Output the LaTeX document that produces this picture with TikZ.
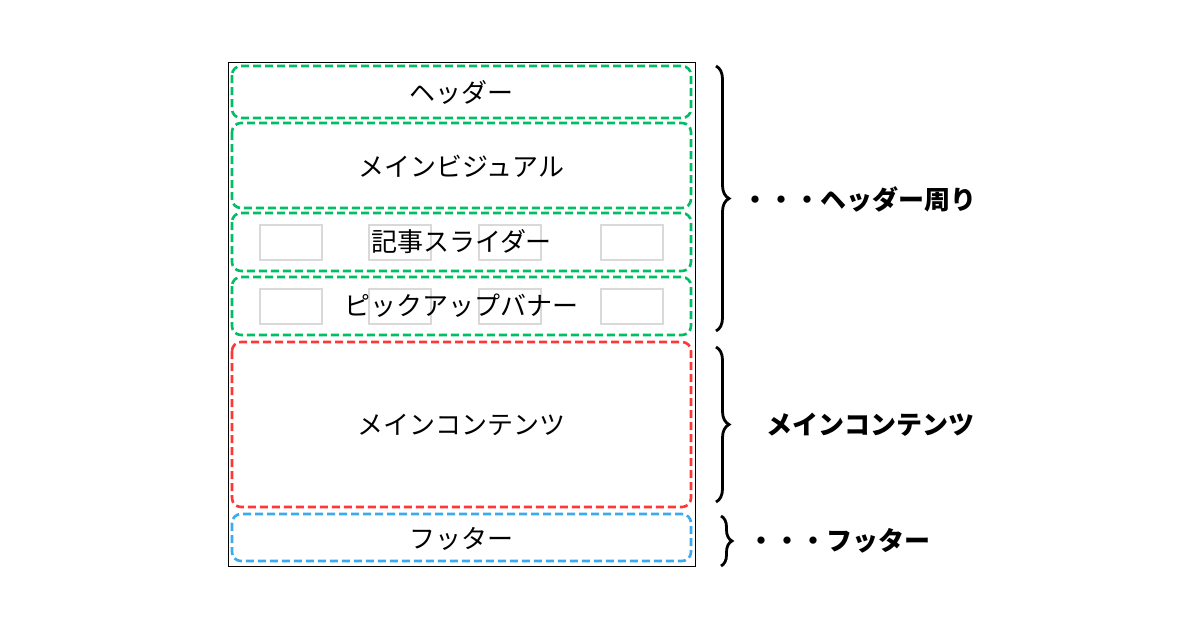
\documentclass[tikz,border=0pt]{standalone}
\usepackage{fontspec}
\setmainfont{Noto Sans CJK JP}
\usetikzlibrary{decorations.pathreplacing}
\begin{document}
\begin{tikzpicture}[x=1pt,y=-1pt,
  sec/.style={draw, line width=2.6pt, rounded corners=9pt, dash pattern=on 8pt off 4pt},
  thumb/.style={draw=black!15, line width=1.5pt},
  lbl/.style={font=\fontsize{26}{28}\selectfont, inner sep=0pt},
  side/.style={font=\fontsize{26}{28}\selectfont\bfseries, inner sep=0pt, anchor=west},
  brc/.style={decorate, decoration={brace, amplitude=13pt}, line width=2.8pt}]
\useasboundingbox (0,0) rectangle (1200,630);
\draw[line width=1pt] (228,62) rectangle (695,566);
% thumbnails
\foreach \y in {225,289}{
  \foreach \x in {260,369,479,601}{
    \draw[thumb] (\x,\y) rectangle ++(62,35);
  }
}
\draw[sec, draw={rgb,255:red,0;green,190;blue,100}] (232,66) rectangle (691,118);
\node[lbl] (h) at (461.5,92) {ヘッダー};
\draw[sec, draw={rgb,255:red,0;green,190;blue,100}] (232,123) rectangle (691,208);
\node[lbl] (mv) at (461.5,166) {メインビジュアル};
\draw[sec, draw={rgb,255:red,0;green,190;blue,100}] (232,213) rectangle (691,271);
\node[lbl] (sl) at (461.5,242) {記事スライダー};
\draw[sec, draw={rgb,255:red,0;green,190;blue,100}] (232,277) rectangle (691,335);
\node[lbl] (pu) at (461.5,306) {ピックアップバナー};
\draw[sec, draw={rgb,255:red,255;green,55;blue,55}] (232,342) rectangle (691,507);
\node[lbl] (mc) at (461.5,425) {メインコンテンツ};
\draw[sec, draw={rgb,255:red,60;green,170;blue,240}] (232,514) rectangle (691,561);
\node[lbl] (ft) at (461.5,539) {フッター};
% braces
\draw[brc] (716,66) -- (716,331);
\draw[brc] (716,347) -- (716,502);
\draw[brc, decoration={amplitude=11pt}] (721,516) -- (721,566);
\node[side] (s1) at (742,199) {・・・ヘッダー周り};
\node[side] (s2) at (766,425) {メインコンテンツ};
\node[side] (s3) at (748,541) {・・・フッター};
\end{tikzpicture}
\end{document}
